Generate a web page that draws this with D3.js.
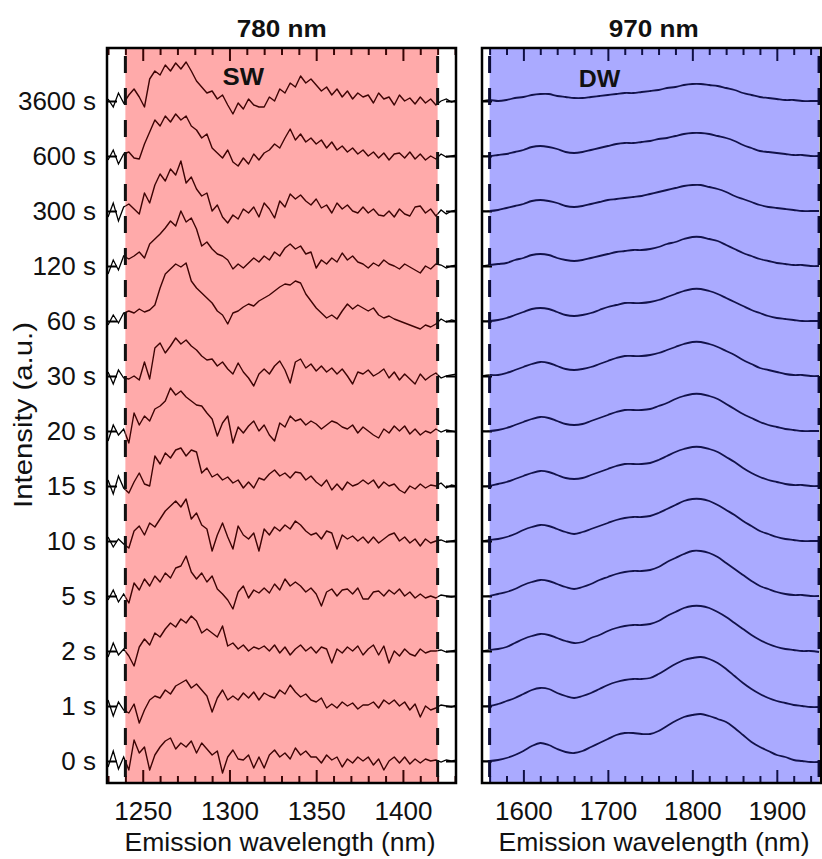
<!DOCTYPE html>
<html><head><meta charset="utf-8">
<script src="https://cdn.jsdelivr.net/npm/d3@7"></script>
<style>body{margin:0;background:#fff}svg{display:block}text{font-family:"Liberation Sans",Arial,sans-serif}</style>
</head><body><svg id="c" width="822" height="859"></svg>
<script>
// ---------- data ----------
const timeLabels = ["0 s","1 s","2 s","5 s","10 s","15 s","20 s","30 s","60 s","120 s","300 s","600 s","3600 s"];
const swTicksMajor = [1250,1300,1350,1400];
const dwTicksMajor = [1600,1700,1800,1900];
const swWindow = [1240,1420];
const dwWindow = [1560,1950];
// SW spectra (780 nm excitation), sampled every 3 nm from 1230 nm
const swStart = 1230, swStep = 3;
const sw0s   = [-6,10,-8,4,-9,21,8,14,-9,6, 14,20,23,12,18,14,20,8,18,12, 6,10,-12,4,11,2,1,6,-7,4, -7,6,11,4,8,2,13,6,10,4, 4,-2,6,1,4,-6,2,-2,4,0, 4,-4,2,-9,0,4,-2,4,-3,2, -2,2,0,1,-1,1,0,1];
const sw1s   = [6,-10,4,-4,-7,2,-17,-4,6,10, 8,16,12,20,23,26,18,22,16,10, -6,8,16,6,10,6,13,8,14,6, 13,10,8,16,12,21,14,9,12,6, 4,8,-2,2,-2,4,0,3,-3,1, 1,4,-2,6,2,6,0,4,-4,2, -11,0,-4,-2,1,0,-1,1];
const sw2s   = [-6,8,-4,2,-5,-15,4,12,6,18, 14,22,28,24,32,28,35,30,18,22, 18,14,25,5,8,2,6,0,4,2, 5,0,6,-2,4,-4,2,6,0,4, -2,4,2,-12,2,-2,4,0,5,-4, 2,6,-4,5,-12,0,-5,2,-3,-5, 2,-2,0,0,1,-1,0,1];
const sw5s   = [-4,6,-6,2,-7,13,6,17,10,20, 14,23,18,28,30,40,24,17,23,14, 20,7,2,-4,-13,4,10,-2,6,3, 8,3,12,6,17,10,14,10,4,8, 2,-10,4,7,0,6,7,2,8,-3, -3,4,5,0,6,2,7,0,4,-2, 2,-2,0,-2,1,0,-1,0];
const sw10s  = [4,-6,2,-3,-7,10,15,6,18,14, 22,30,35,40,34,42,22,28,16,12, -10,6,18,4,-8,15,6,2,8,-10, 12,6,14,10,16,12,20,16,10,6, 8,2,10,8,-8,6,2,5,0,4, -2,4,-2,2,6,8,0,4,-2,2, -5,2,-2,0,1,-1,0,1];
const sw15s  = [6,-8,10,-2,-7,4,13,2,0,30, 22,33,28,36,38,30,36,34,13,18, 9,12,6,9,3,6,-2,4,-2,8, 6,12,16,10,13,8,14,13,6,10, 4,0,6,-4,2,-4,4,0,2,6, 2,6,-2,4,0,2,-4,-7,0,-3, 2,-2,1,0,3,-2,1,0];
const sw20s  = [-10,6,-4,2,-12,18,6,15,10,22, 25,30,43,36,40,34,30,26,25,18, 12,-5,8,15,-12,4,-2,5,10,0, 6,-4,-10,8,4,15,10,12,6,10, 7,2,6,10,8,4,2,6,-2,4, 0,-4,-7,2,-2,5,0,5,-3,2, -4,0,-2,2,-1,1,0,-1];
const sw30s  = [4,-8,6,-2,-3,0,-4,14,-3,28, 33,23,30,38,32,36,30,26,20,16, 17,10,14,7,2,13,4,-2,-10,2, 7,2,10,15,6,-7,14,17,8,12, 5,10,4,8,2,7,0,-8,4,2, 6,0,3,7,-2,4,-4,2,-3,-8, 2,-4,0,3,-2,0,1,2];
const sw60s  = [-4,6,-2,8,10,8,12,9,11,16, 33,47,52,57,54,58,40,33,28,23, 18,10,6,-3,8,10,14,17,15,20, 23,26,30,34,37,36,40,38,27,20, 13,8,3,6,2,10,17,12,16,13, 10,13,6,3,5,2,0,-2,-4,-6, -8,-4,-6,-3,2,-1,1,0];
const sw120s = [-8,6,-4,10,7,10,14,8,22,27, 32,38,45,40,55,44,48,37,20,24, 17,12,10,6,-3,2,-2,3,8,4, 10,6,14,10,18,22,17,20,12,14, -2,6,2,8,4,13,6,10,4,2, -2,3,0,6,2,0,-3,2,-1,-4, -7,0,-3,2,1,-2,0,1];
const sw300s = [-6,8,-10,4,7,2,-3,18,8,26, 37,30,42,36,50,28,34,22,15,18, 0,6,-6,-12,-4,-8,2,-2,4,-6, 8,2,-7,10,4,17,12,16,10,6, 12,3,6,-2,8,2,6,0,-2,4, -2,2,-4,-5,0,-6,2,-3,-5,4, 5,-2,2,-5,1,-3,0,1];
const sw600s = [-4,6,-8,2,4,-2,-3,12,24,36, 30,40,34,42,36,40,30,26,18,22, 8,3,-2,6,-6,-10,-2,-8,2,-4, 3,6,12,8,18,27,16,22,14,18, 12,16,8,14,6,10,4,8,2,6, 0,4,-2,3,-4,2,3,-2,4,-3, 2,-4,0,-3,2,-1,0,1];
const sw3600s= [2,-6,8,-2,6,12,4,-6,22,30, 26,36,30,38,32,39,30,20,14,8, 10,2,6,-4,-13,-2,-8,2,-4,-6, -6,4,0,12,8,18,14,25,18,22, 16,10,14,6,12,4,10,2,8,4, 6,-2,8,2,4,-4,6,0,3,-3, 4,-2,2,-4,0,2,-1,1];
// DW spectra (970 nm excitation), sampled every 10 nm from 1550 nm
const dwStart = 1550, dwStep = 10;
const dw0s   = [0,0,1,3,6,10,15,18,16,12, 9,8,10,14,18,22,26,28,28,27, 27,30,35,40,44,46,47,45,42,39, 33,26,19,14,10,6,4,1,0,-1, -1];
const dw1s   = [0,0,2,5,8,12,16,18,17,13, 10,8,10,13,17,21,24,26,27,27, 28,32,37,42,46,48,49,47,43,37, 30,23,17,12,8,5,3,1,0,-1, -1];
const dw2s   = [0,1,2,4,8,12,15,17,16,13, 10,8,9,13,16,20,23,25,26,26, 27,30,35,39,43,45,45,43,39,34, 28,22,16,11,7,4,2,1,0,0, -1];
const dw5s   = [0,0,2,4,7,11,14,16,15,12, 9,7,9,12,16,19,22,24,25,25, 26,29,34,38,42,45,45,43,39,33, 27,21,15,10,7,4,2,1,1,0, 0];
const dw10s  = [0,1,2,4,7,11,14,16,15,12, 9,7,9,12,15,18,21,23,24,24, 25,28,32,36,40,42,42,40,36,31, 26,20,15,10,7,4,2,1,0,0, 0];
const dw15s  = [0,0,2,4,7,10,13,15,14,11, 8,7,8,11,14,17,20,22,22,22, 23,26,30,34,37,39,39,37,34,29, 24,18,13,9,6,4,2,1,1,0, 0];
const dw20s  = [0,0,1,3,6,9,12,14,13,10, 7,6,7,10,13,16,19,21,21,21, 22,25,28,32,35,37,37,35,32,27, 22,17,13,9,6,4,2,1,0,0, 0];
const dw30s  = [0,1,1,3,6,9,12,14,13,10, 7,6,7,9,12,15,18,20,20,20, 21,23,26,29,32,34,34,32,29,25, 21,16,12,8,6,4,2,1,1,0, 0];
const dw60s  = [0,0,1,3,6,9,12,13,12,9, 6,5,6,8,11,14,16,18,18,18, 19,21,24,27,30,32,32,30,27,23, 19,15,11,8,5,3,2,1,0,0, 0];
const dw120s = [0,1,2,3,6,8,11,12,11,8, 6,5,6,8,10,12,14,15,16,16, 17,19,22,24,27,29,29,27,25,21, 17,13,10,7,5,3,2,1,1,0, 0];
const dw300s = [0,0,1,3,5,7,10,11,10,8, 5,4,5,7,9,11,12,13,14,15, 17,19,21,23,25,26,26,24,22,19, 15,12,9,6,4,3,2,1,0,0, 0];
const dw600s = [0,0,1,2,4,6,9,10,9,7, 4,3,4,6,8,10,12,13,13,14, 15,17,18,20,22,23,23,22,20,18, 15,11,8,5,4,3,2,1,1,0, 0];
const dw3600s= [0,1,0,1,3,4,6,7,7,5, 4,3,3,4,5,6,7,8,8,9, 10,11,13,14,16,17,17,16,15,13, 11,8,6,4,3,2,1,1,0,0, 0];
const swSeries = [sw0s,sw1s,sw2s,sw5s,sw10s,sw15s,sw20s,sw30s,sw60s,sw120s,sw300s,sw600s,sw3600s];
const dwSeries = [dw0s,dw1s,dw2s,dw5s,dw10s,dw15s,dw20s,dw30s,dw60s,dw120s,dw300s,dw600s,dw3600s];
const traceSpacing = 55; // vertical offset between stacked spectra (a.u.)

// ---------- layout ----------
const FONT = '"Liberation Sans",Arial,sans-serif';
const svg = d3.select("#c");
const yTop = 48, yBot = 783;
const y = d3.scaleLinear().domain([-22, 12*traceSpacing + 53]).range([yBot, yTop]);
const offsets = timeLabels.map((_, i) => i * traceSpacing);

const panels = [
  {id:"sw", x0:107, x1:456, domain:[1229.4,1430.6], major:swTicksMajor, minorStep:10, window:swWindow,
   fill:"#ffaaaa", line:"#3d0404", tick:"#3a0606", dash:"#111", series:swSeries, start:swStart, step:swStep,
   title:"780 nm", titleX:281.7, label:"SW", labelX:1308, labelY:85, xLabelX:280,
   curve:d3.curveLinear, lw:1.4},
  {id:"dw", x0:482, x1:821, domain:[1551,1952.3], major:dwTicksMajor, minorStep:20, window:dwWindow,
   fill:"#aaaaff", line:"#12124a", tick:"#101045", dash:"#0b0b35", series:dwSeries, start:dwStart, step:dwStep,
   title:"970 nm", titleX:653.8, label:"DW", labelX:1690, labelY:87, xLabelX:654,
   curve:d3.curveCatmullRom, lw:1.8}
];

panels.forEach((p, pi) => {
  const x = d3.scaleLinear().domain(p.domain).range([p.x0, p.x1]);
  const g = svg.append("g");
  const defs = svg.append("defs");
  defs.append("clipPath").attr("id", p.id+"in").append("rect")
    .attr("x", x(p.window[0])).attr("width", x(p.window[1]) - x(p.window[0]))
    .attr("y", yTop).attr("height", yBot - yTop);
  const out = defs.append("clipPath").attr("id", p.id+"out");
  out.append("rect").attr("x", p.x0).attr("width", x(p.window[0]) - p.x0).attr("y", yTop).attr("height", yBot-yTop);
  out.append("rect").attr("x", x(p.window[1])).attr("width", p.x1 - x(p.window[1])).attr("y", yTop).attr("height", yBot-yTop);

  g.append("rect").attr("x", x(p.window[0])).attr("width", x(p.window[1]) - x(p.window[0]))
    .attr("y", yTop).attr("height", yBot - yTop).attr("fill", p.fill);

  const minor = d3.range(Math.ceil(p.domain[0]/p.minorStep)*p.minorStep, p.domain[1], p.minorStep)
    .filter(v => !p.major.includes(v));
  const mkAxis = (fn, vals, size) => fn(x).tickValues(vals).tickSize(-size).tickFormat("");
  [[d3.axisBottom, yBot],[d3.axisTop, yTop]].forEach(([fn, yy]) => {
    const a1 = g.append("g").attr("transform", `translate(0,${yy})`).call(mkAxis(fn, p.major, 13));
    const a2 = g.append("g").attr("transform", `translate(0,${yy})`).call(mkAxis(fn, minor, 7));
    [a1,a2].forEach(a => { a.select(".domain").remove(); a.selectAll("line").attr("stroke", p.tick).attr("stroke-width", 2); });
  });
  const ax = g.append("g").attr("transform", `translate(0,${yBot})`)
    .call(d3.axisBottom(x).tickValues(p.major).tickSize(0).tickPadding(18.5).tickFormat(d3.format("d")));
  ax.select(".domain").remove();
  ax.selectAll("text").attr("font-size", 26).attr("fill", "#111").attr("font-family", FONT);

  const yl = g.append("g").attr("transform", `translate(${p.x0},0)`)
    .call(d3.axisLeft(y).tickValues(offsets).tickSize(-10).tickFormat((d,i) => pi === 0 ? timeLabels[i] : "").tickPadding(pi===0 ? 11 : 0));
  yl.select(".domain").remove();
  yl.selectAll("line").attr("stroke", "#000").attr("stroke-width", 2);
  yl.selectAll("text").attr("font-size", 26).attr("fill", "#111").attr("font-family", FONT);
  if (pi === 0) {
    const yr = g.append("g").attr("transform", `translate(${p.x1},0)`)
      .call(d3.axisRight(y).tickValues(offsets).tickSize(-10).tickFormat(""));
    yr.select(".domain").remove();
    yr.selectAll("line").attr("stroke", "#000").attr("stroke-width", 2);
  }

  const line = d3.line().curve(p.curve)
    .x((d, k) => x(p.start + k * p.step)).y(d => d);
  p.series.forEach((vals, i) => {
    const pts = vals.map(v => y(offsets[i] + v));
    g.append("path").attr("d", line(pts)).attr("fill", "none").attr("stroke", "#000")
      .attr("stroke-width", 1.3).attr("clip-path", `url(#${p.id}out)`);
    g.append("path").attr("d", line(pts)).attr("fill", "none").attr("stroke", p.line)
      .attr("stroke-width", p.lw).attr("stroke-linejoin", "round").attr("clip-path", `url(#${p.id}in)`);
  });

  p.window.forEach(w => {
    g.append("line").attr("x1", x(w)).attr("x2", x(w)).attr("y1", yTop).attr("y2", yBot)
      .attr("stroke", p.dash).attr("stroke-width", 3).attr("stroke-dasharray", "17,15").attr("stroke-dashoffset", -8);
  });

  g.append("rect").attr("x", p.x0).attr("y", yTop).attr("width", p.x1 - p.x0).attr("height", yBot - yTop)
    .attr("fill", "none").attr("stroke", "#000").attr("stroke-width", 2.5);

  g.append("text").attr("x", p.titleX).attr("y", 37.3).attr("text-anchor", "middle")
    .attr("font-size", 24).attr("font-weight", "bold").attr("fill", "#111")
    .attr("textLength", 90).attr("lengthAdjust", "spacingAndGlyphs").text(p.title);
  g.append("text").attr("x", x(p.labelX)).attr("y", p.labelY).attr("text-anchor", "middle")
    .attr("font-size", 24).attr("font-weight", "bold").attr("fill", "#111")
    .attr("textLength", 41.5).attr("lengthAdjust", "spacingAndGlyphs").text(p.label);
  g.append("text").attr("x", p.xLabelX).attr("y", 851).attr("text-anchor", "middle")
    .attr("font-size", 26).attr("fill", "#111")
    .attr("textLength", 311).attr("lengthAdjust", "spacingAndGlyphs").text("Emission wavelength (nm)");
});

svg.append("text").attr("transform", `translate(32,415) rotate(-90)`).attr("text-anchor", "middle")
  .attr("font-size", 26).attr("fill", "#111")
  .attr("textLength", 186).attr("lengthAdjust", "spacingAndGlyphs").text("Intensity (a.u.)");
</script></body></html>
